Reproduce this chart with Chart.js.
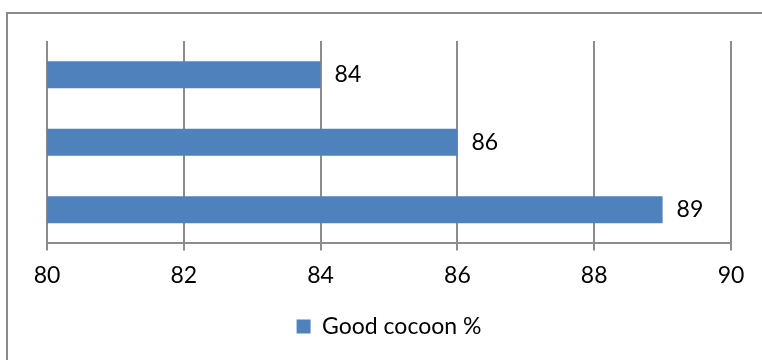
<!DOCTYPE html>
<html>
<head>
<meta charset="utf-8">
<script src="https://cdn.jsdelivr.net/npm/chart.js@4"></script>
<style>
  html, body { margin: 0; padding: 0; background: #fff; overflow: hidden; }
  #wrap { position: relative; width: 762px; height: 360px; overflow: hidden; }
  #frame { position: absolute; left: 6px; top: 12px; width: 900px; height: 500px;
           border: 2px solid #8a8a8a; box-sizing: border-box; }
  #chart { position: absolute; left: 0; top: 0; }
</style>
</head>
<body>
<div id="wrap">
  <div id="frame"></div>
  <canvas id="chart" width="762" height="360"></canvas>
</div>
<script>
// categories (not shown on the chart), top to bottom
const categories = ["1", "2", "3"];
const goodCocoon = [84, 86, 89];
const seriesName = "Good cocoon %";
const xMin = 80, xMax = 90, xStep = 2;

const FONT = "Lato, 'Open Sans', sans-serif";
const GRID = "#8c8c8c";

// valores al final de cada barra
const barLabels = {
  id: "barLabels",
  afterDatasetsDraw(chart) {
    const ctx = chart.ctx;
    const meta = chart.getDatasetMeta(0);
    ctx.save();
    ctx.font = "23px " + FONT;
    ctx.fillStyle = "#000";
    ctx.textAlign = "left";
    ctx.textBaseline = "middle";
    meta.data.forEach((bar, i) => {
      ctx.fillText(String(goodCocoon[i]), bar.x + 14, bar.y);
    });
    ctx.restore();
  }
};

new Chart(document.getElementById("chart"), {
  type: "bar",
  data: {
    labels: categories,
    datasets: [{
      label: seriesName,
      data: goodCocoon,
      backgroundColor: "#4f81bd",
      borderWidth: 0,
      barPercentage: 0.8,
      categoryPercentage: 0.5,
    }],
  },
  options: {
    indexAxis: "y",
    responsive: false,
    animation: false,
    layout: { padding: { left: 47, right: 31, top: 41, bottom: 12 } },
    plugins: {
      legend: {
        position: "bottom",
        labels: {
          font: { family: FONT, size: 23 },
          color: "#000",
          boxWidth: 14,
          boxHeight: 14,
          padding: 15,
        },
      },
      tooltip: { enabled: false },
    },
    scales: {
      x: {
        min: xMin,
        max: xMax,
        ticks: {
          stepSize: xStep,
          color: "#000",
          font: { family: FONT, size: 23 },
          padding: 11,
        },
        grid: { color: GRID, lineWidth: 2, tickLength: 7 },
        border: { color: GRID, width: 2 },
      },
      y: { display: false },
    },
  },
  plugins: [barLabels],
});
</script>
</body>
</html>
